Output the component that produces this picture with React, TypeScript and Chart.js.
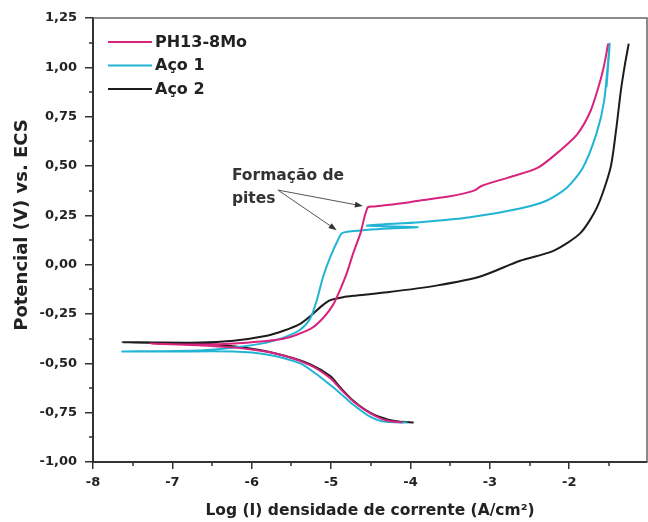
import React, { useEffect, useRef } from 'react';
import { Chart, registerables } from 'chart.js';

Chart.register(...registerables);

const seriesNames = ['PH13-8Mo', 'Aço 1', 'Aço 2'];
const seriesColors = ['#d8237e', '#22b4d4', '#1c1c1c'];

// PH13-8Mo: cathodic branch (from high current back to Ecorr) then anodic branch
const phX = [-4.1, -4.3, -4.5, -4.7, -4.87, -5.01, -5.26, -5.6, -6.0, -6.6, -7.28,
  -6.6, -6.23, -5.6, -5.26, -5.1, -4.97, -4.89, -4.8, -4.72, -4.63, -4.54, -4.45, -4.13, -3.88, -3.52, -3.2, -3.1, -2.78, -2.4, -2.11, -1.9, -1.73, -1.61, -1.55, -1.51];
const phY = [-0.80, -0.79, -0.755, -0.70, -0.635, -0.575, -0.51, -0.46, -0.43, -0.41, -0.40,
  -0.405, -0.40, -0.375, -0.325, -0.27, -0.20, -0.13, -0.04, 0.06, 0.16, 0.29, 0.295, 0.31, 0.325, 0.345, 0.375, 0.40, 0.44, 0.49, 0.58, 0.66, 0.78, 0.93, 1.03, 1.12];

// Aço 1
const aco1X = [-4.04, -4.34, -4.51, -4.72, -4.89, -5.01, -5.2, -5.39, -5.81, -6.23, -7.0, -7.63,
  -6.65, -6.23, -5.81, -5.6, -5.39, -5.26, -5.18, -5.10, -5.01, -4.92, -4.86, -4.63, -4.34, -3.91, -4.55, -3.88, -3.25, -2.62, -2.28, -2.03, -1.83, -1.66, -1.56, -1.49, -1.53];
const aco1Y = [-0.80, -0.795, -0.77, -0.71, -0.65, -0.61, -0.55, -0.50, -0.455, -0.44, -0.44, -0.44,
  -0.435, -0.42, -0.395, -0.37, -0.33, -0.27, -0.18, -0.06, 0.04, 0.12, 0.16, 0.173, 0.182, 0.19, 0.198, 0.215, 0.24, 0.285, 0.325, 0.39, 0.49, 0.66, 0.83, 1.12, 0.90];

// Aço 2
const aco2X = [-3.96, -4.15, -4.29, -4.51, -4.72, -4.89, -5.01, -5.26, -5.6, -6.02, -6.65, -7.63,
  -6.65, -6.23, -5.81, -5.6, -5.39, -5.26, -5.12, -5.01, -4.85, -4.72, -4.29, -3.66, -3.12, -2.62, -2.2, -1.86, -1.65, -1.48, -1.41, -1.35, -1.30, -1.25];
const aco2Y = [-0.80, -0.795, -0.785, -0.75, -0.69, -0.62, -0.565, -0.505, -0.46, -0.425, -0.40, -0.393,
  -0.395, -0.385, -0.36, -0.335, -0.30, -0.26, -0.21, -0.18, -0.165, -0.158, -0.14, -0.105, -0.06, 0.02, 0.07, 0.16, 0.29, 0.49, 0.68, 0.88, 1.01, 1.12];

const xTitle = 'Log (I) densidade de corrente (A/cm²)';
const yTitle = 'Potencial (V) vs. ECS';
const annotationLines = ['Formação de', 'pites'];
// annotation anchor (data coords): text start, arrow start, arrow targets
const annotationText = { x: -6.25, y: 0.43 };
const arrowStart = { x: -5.67, y: 0.378 };
const arrowTargets = [{ x: -4.6, y: 0.297 }, { x: -4.93, y: 0.175 }];

const X_MIN = -8;
const X_MAX = -1.02;
const Y_MIN = -1;
const Y_MAX = 1.25;

const FONT = '"DejaVu Sans", sans-serif';

function toPoints(xs: number[], ys: number[]) {
  return xs.map((x, i) => ({ x, y: ys[i] }));
}

const decorPlugin = {
  id: 'decor',
  afterDraw(chart: any) {
    const { ctx, chartArea: a, scales } = chart;
    const x = scales.x;
    const y = scales.y;
    ctx.save();
    // top & right frame
    ctx.strokeStyle = '#666';
    ctx.lineWidth = 1.5;
    ctx.beginPath();
    ctx.moveTo(a.left, a.top);
    ctx.lineTo(a.right, a.top);
    ctx.lineTo(a.right, a.bottom);
    ctx.stroke();

    // minor ticks
    ctx.strokeStyle = '#333';
    ctx.lineWidth = 1.5;
    ctx.beginPath();
    for (let v = X_MIN + 0.5; v < X_MAX; v += 1) {
      const px = Math.round(x.getPixelForValue(v));
      ctx.moveTo(px, a.bottom);
      ctx.lineTo(px, a.bottom + 4);
    }
    for (let v = Y_MIN + 0.125; v < Y_MAX; v += 0.25) {
      const py = Math.round(y.getPixelForValue(v));
      ctx.moveTo(a.left - 4, py);
      ctx.lineTo(a.left, py);
    }
    ctx.stroke();

    // y title
    ctx.fillStyle = '#222';
    ctx.font = 'bold 18px ' + FONT;
    ctx.textAlign = 'center';
    ctx.textBaseline = 'middle';
    ctx.translate(22, 225);
    ctx.rotate(-Math.PI / 2);
    ctx.fillText(yTitle, 0, 0);
    ctx.restore();

    // legend
    ctx.save();
    chart.data.datasets.forEach((ds: any, i: number) => {
      const ly = 42 + i * 23.5;
      ctx.strokeStyle = ds.borderColor;
      ctx.lineWidth = 2;
      ctx.beginPath();
      ctx.moveTo(108, ly);
      ctx.lineTo(152, ly);
      ctx.stroke();
      ctx.fillStyle = '#222';
      ctx.font = 'bold 16px ' + FONT;
      ctx.textAlign = 'left';
      ctx.textBaseline = 'middle';
      ctx.fillText(ds.label, 155, ly + 0.5);
    });

    // annotation
    const tx = x.getPixelForValue(annotationText.x);
    const ty = y.getPixelForValue(annotationText.y);
    ctx.fillStyle = '#333';
    ctx.font = 'bold 15.5px ' + FONT;
    ctx.textAlign = 'left';
    ctx.textBaseline = 'alphabetic';
    annotationLines.forEach((t, i) => ctx.fillText(t, tx, ty + i * 23));

    const sx = x.getPixelForValue(arrowStart.x);
    const sy = y.getPixelForValue(arrowStart.y);
    ctx.strokeStyle = '#555';
    ctx.fillStyle = '#333';
    ctx.lineWidth = 1;
    arrowTargets.forEach((t) => {
      const ex = x.getPixelForValue(t.x);
      const ey = y.getPixelForValue(t.y);
      const ang = Math.atan2(ey - sy, ex - sx);
      const len = 8;
      const bx = ex - len * Math.cos(ang);
      const by = ey - len * Math.sin(ang);
      ctx.beginPath();
      ctx.moveTo(sx, sy);
      ctx.lineTo(bx, by);
      ctx.stroke();
      ctx.beginPath();
      ctx.moveTo(ex, ey);
      ctx.lineTo(bx + 3 * Math.sin(ang), by - 3 * Math.cos(ang));
      ctx.lineTo(bx - 3 * Math.sin(ang), by + 3 * Math.cos(ang));
      ctx.closePath();
      ctx.fill();
    });
    ctx.restore();
  },
};

export default function App() {
  const canvasRef = useRef<HTMLCanvasElement | null>(null);

  useEffect(() => {
    if (!canvasRef.current) return;
    const datasets = [
      toPoints(phX, phY),
      toPoints(aco1X, aco1Y),
      toPoints(aco2X, aco2Y),
    ].map((data, i) => ({
      label: seriesNames[i],
      data,
      borderColor: seriesColors[i],
      backgroundColor: seriesColors[i],
      borderWidth: 2,
      pointRadius: 0,
      showLine: true,
      tension: 0.25,
      fill: false,
    }));

    const chart = new Chart(canvasRef.current, {
      type: 'scatter',
      data: { datasets },
      options: {
        animation: false,
        responsive: false,
        devicePixelRatio: 1,
        layout: { padding: { left: 0, top: 18, right: 1, bottom: 0 } },
        plugins: { legend: { display: false }, tooltip: { enabled: false } },
        scales: {
          x: {
            type: 'linear',
            min: X_MIN,
            max: X_MAX,
            ticks: {
              stepSize: 1,
              includeBounds: false,
              color: '#222',
              padding: 6,
              font: { family: FONT, weight: 'bold', size: 13 },
              callback: (v: any) => String(v),
            },
            grid: { drawOnChartArea: false, drawTicks: true, tickLength: 7, color: '#333', lineWidth: 1.5 },
            border: { display: true, color: '#333', width: 2 },
            title: {
              display: true,
              text: xTitle,
              color: '#222',
              font: { family: FONT, weight: 'bold', size: 15.5 },
              padding: { top: 4, bottom: 2 },
            },
            afterFit: (s: any) => { s.height = 60; },
          },
          y: {
            type: 'linear',
            min: Y_MIN,
            max: Y_MAX,
            ticks: {
              stepSize: 0.25,
              color: '#222',
              padding: 8,
              font: { family: FONT, weight: 'bold', size: 13 },
              callback: (v: any) => Number(v).toFixed(2).replace('.', ','),
            },
            grid: { drawOnChartArea: false, drawTicks: true, tickLength: 8, color: '#333', lineWidth: 1.5 },
            border: { display: true, color: '#333', width: 2 },
            afterFit: (s: any) => { s.width = 93; },
          },
        },
      },
      plugins: [decorPlugin],
    } as any);
    return () => chart.destroy();
  }, []);

  return (
    <div style={{ position: 'absolute', left: 0, top: 0, width: 648, height: 522, background: '#fff' }}>
      <canvas ref={canvasRef} width={648} height={522} style={{ display: 'block' }} />
    </div>
  );
}
